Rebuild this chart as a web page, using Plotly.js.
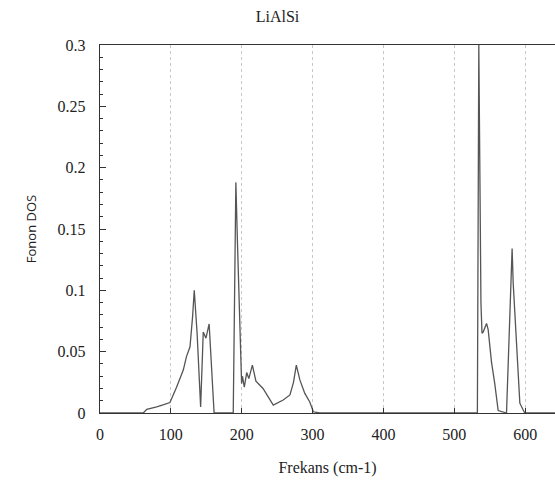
<!DOCTYPE html>
<html>
<head>
<meta charset="utf-8">
<script src="https://cdn.plot.ly/plotly-3.0.1.min.js"></script>
<style>html,body{margin:0;padding:0;background:#fff;}#chart{width:555px;height:492px;}</style>
</head>
<body>
<div id="chart"></div>
<script>
// Phonon DOS of LiAlSi
const freq = [0, 55, 61, 66, 70, 80, 90, 98.7, 108, 117.5, 122, 127, 130.7, 133, 137, 140, 142,
  145.7, 149.5, 154, 157.5, 161, 186.6, 188, 189, 190, 191, 191.7, 193.7, 195, 197.5, 199.8,
  201, 203.6, 207, 210, 215, 220, 230, 244.5, 258.5, 268, 273, 277, 282, 289, 296, 301, 310,
  532.5, 534.5, 535.5, 536.5, 537.5, 539, 540.6, 545.4, 547.7, 552.5, 557, 561.8, 573.6,
  576, 579.3, 581.5, 583, 587.7, 592.4, 596.6, 599.4, 645];
const dos = [0, 0, 0, 0.003, 0.0035, 0.005, 0.0068, 0.0085, 0.021, 0.035, 0.046, 0.054, 0.079, 0.100, 0.065, 0.024, 0.005,
  0.066, 0.061, 0.0726, 0.038, 0, 0, 0.0, 0.05, 0.11, 0.17, 0.188, 0.144, 0.120, 0.062, 0.024,
  0.030, 0.021, 0.033, 0.028, 0.039, 0.026, 0.020, 0.0065, 0.0106, 0.0147, 0.025, 0.039, 0.027, 0.016, 0.009, 0.001, 0,
  0, 0.3, 0.25, 0.16, 0.09, 0.065, 0.066, 0.073, 0.068, 0.041, 0.024, 0.002, 0,
  0.04, 0.09, 0.134, 0.106, 0.054, 0.008, 0.003, 0, 0];
const xTickStep = 100;
const yTickStep = 0.05;
const yMinorStep = 0.01;

const serifFont = 'Liberation Serif, DejaVu Serif, serif';
const sansFont = 'Open Sans, Liberation Sans, sans-serif';

const dosTrace = {
  x: freq, y: dos, type: 'scatter', mode: 'lines',
  line: {color: '#555555', width: 1.3},
  hoverinfo: 'skip', showlegend: false
};

const chartLayout = {
  width: 555, height: 492,
  font: {family: serifFont, size: 16, color: '#222'},
  margin: {l: 100, r: 0, t: 45, b: 79, pad: 0},
  title: {text: 'LiAlSi', font: {family: serifFont, size: 16, color: '#222'},
    xref: 'container', x: 0.5, xanchor: 'center', yref: 'container', y: 1 - 16/492, yanchor: 'middle'},
  xaxis: {
    range: [0, 642], tick0: 0, dtick: xTickStep,
    ticks: 'inside', ticklen: 5, tickwidth: 1, tickcolor: '#333',
    showline: true, linecolor: '#333', linewidth: 1.3, mirror: true,
    showgrid: true, gridcolor: '#c8c8c8', griddash: 'dot', gridwidth: 1,
    zeroline: false, ticklabelstandoff: 6,
    tickfont: {family: serifFont, size: 16, color: '#222'},
    title: {text: 'Frekans (cm-1)', font: {family: serifFont, size: 16, color: '#222'}, standoff: 20},
    automargin: false
  },
  yaxis: {
    range: [0, 0.3], tick0: 0, dtick: yTickStep,
    ticks: 'inside', ticklen: 6, tickwidth: 1, tickcolor: '#333',
    minor: {dtick: yMinorStep, ticks: 'inside', ticklen: 3, tickwidth: 1, tickcolor: '#333', showgrid: false},
    showline: true, linecolor: '#333', linewidth: 1.3, mirror: false,
    showgrid: false, zeroline: false, ticklabelstandoff: 10,
    tickfont: {family: serifFont, size: 16, color: '#222'},
    title: {text: 'Fonon DOS', font: {family: sansFont, size: 13, color: '#222'}, standoff: 18},
    automargin: false
  }
};

Plotly.newPlot('chart', [dosTrace], chartLayout, {displayModeBar: false, staticPlot: true});
</script>
</body>
</html>
